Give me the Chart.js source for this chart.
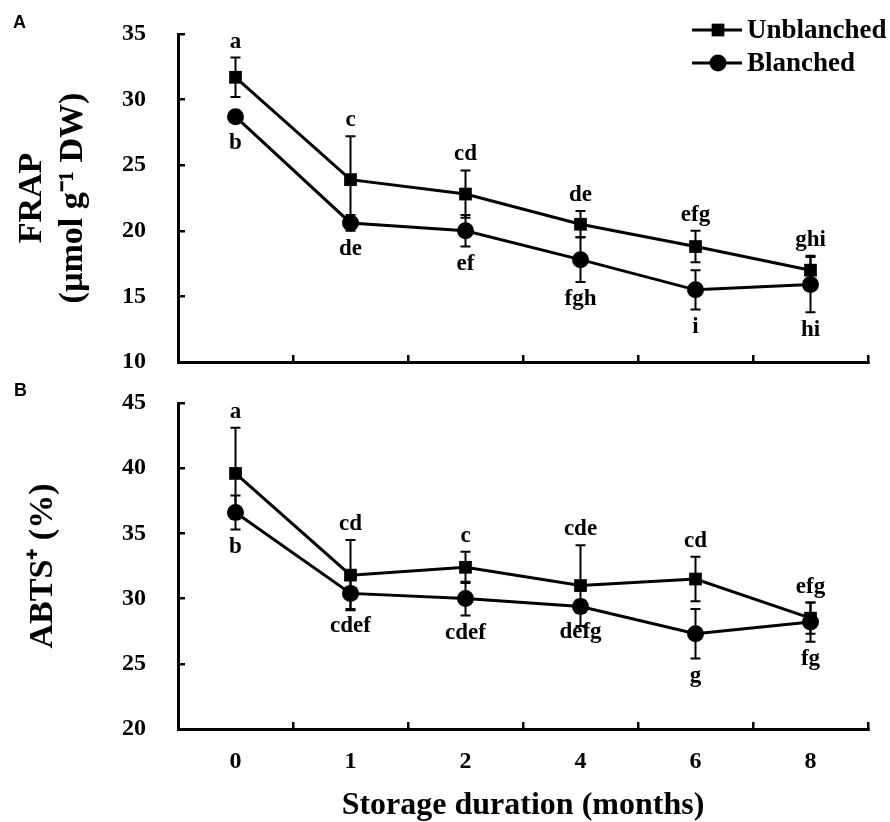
<!DOCTYPE html>
<html>
<head>
<meta charset="utf-8">
<script src="https://cdn.jsdelivr.net/npm/chart.js@4"></script>
<style>
  body { margin: 0; background: #fff; }
  #wrap { position: relative; width: 890px; height: 822px; }
  canvas { position: absolute; left: 0; }
  #chartA { top: 0; }
  #chartB { top: 380px; }
</style>
</head>
<body>
<div id="wrap">
  <canvas id="chartA" width="890" height="380"></canvas>
  <canvas id="chartB" width="890" height="442"></canvas>
</div>
<script>
// storage duration (months)
const months = ['0', '1', '2', '4', '6', '8'];

// Panel A - FRAP (umol g-1 DW)
const frapUnblanched = [31.7, 23.9, 22.8, 20.5, 18.8, 17.0];
const frapUnblanchedErr = [1.5, 3.3, 1.8, 1.0, 1.2, 1.1];
const frapUnblanchedLetters = ['a', 'c', 'cd', 'de', 'efg', 'ghi'];
const frapBlanched = [28.7, 20.6, 20.0, 17.8, 15.5, 15.9];
const frapBlanchedErr = [0.4, 0.6, 1.2, 1.7, 1.5, 2.1];
const frapBlanchedLetters = ['b', 'de', 'ef', 'fgh', 'i', 'hi'];

// Panel B - ABTS+ (%)
const abtsUnblanched = [39.6, 31.8, 32.4, 31.0, 31.5, 28.5];
const abtsUnblanchedErr = [3.5, 2.7, 1.2, 3.1, 1.7, 1.2];
const abtsUnblanchedLetters = ['a', 'cd', 'c', 'cde', 'cd', 'efg'];
const abtsBlanched = [36.6, 30.4, 30.0, 29.4, 27.3, 28.2];
const abtsBlanchedErr = [1.3, 1.2, 1.3, 0.5, 1.9, 1.5];
const abtsBlanchedLetters = ['b', 'cdef', 'cdef', 'defg', 'g', 'fg'];

const serif = "'Liberation Serif', 'Times New Roman', serif";
Chart.defaults.font.family = serif;
Chart.defaults.font.weight = 'bold';
Chart.defaults.color = '#000';

// error bars under the markers, letters on top
const errorBars = {
  id: 'errorBars',
  beforeDatasetsDraw(chart) {
    const ctx = chart.ctx;
    const y = chart.scales.y;
    chart.data.datasets.forEach((ds, i) => {
      chart.getDatasetMeta(i).data.forEach((pt, j) => {
        const top = y.getPixelForValue(ds.data[j] + ds.errors[j]);
        const bot = y.getPixelForValue(ds.data[j] - ds.errors[j]);
        ctx.save();
        ctx.strokeStyle = '#000';
        ctx.lineWidth = 2;
        ctx.beginPath();
        ctx.moveTo(pt.x, top); ctx.lineTo(pt.x, bot);
        ctx.moveTo(pt.x - 5, top); ctx.lineTo(pt.x + 5, top);
        ctx.moveTo(pt.x - 5, bot); ctx.lineTo(pt.x + 5, bot);
        ctx.stroke();
        ctx.restore();
      });
    });
  },
  afterDatasetsDraw(chart) {
    const ctx = chart.ctx;
    const y = chart.scales.y;
    ctx.save();
    ctx.fillStyle = '#000';
    ctx.font = 'bold 23px ' + serif;
    ctx.textAlign = 'center';
    chart.data.datasets.forEach((ds, i) => {
      chart.getDatasetMeta(i).data.forEach((pt, j) => {
        if (ds.letterSide === 'above') {
          const top = Math.min(y.getPixelForValue(ds.data[j] + ds.errors[j]), pt.y - ds.pointRadius);
          ctx.textBaseline = 'alphabetic';
          ctx.fillText(ds.letters[j], pt.x, top - 10);
        } else {
          const bot = Math.max(y.getPixelForValue(ds.data[j] - ds.errors[j]), pt.y + ds.pointRadius);
          ctx.textBaseline = 'top';
          ctx.fillText(ds.letters[j], pt.x, bot + 6);
        }
      });
    });
    ctx.restore();
  }
};

const panelLetter = {
  id: 'panelLetter',
  afterDraw(chart, args, opts) {
    const ctx = chart.ctx;
    ctx.save();
    ctx.fillStyle = '#000';
    ctx.font = "bold 18px 'Liberation Sans', Arial, sans-serif";
    ctx.textBaseline = 'top';
    ctx.fillText(opts.text, opts.x, opts.y);
    ctx.restore();
  }
};

// line + marker legend, top right of panel A
const lineLegend = {
  id: 'lineLegend',
  afterDraw(chart, args, opts) {
    if (!opts.show) return;
    const ctx = chart.ctx;
    const textX = chart.width - 143;
    ctx.save();
    chart.data.datasets.forEach((ds, i) => {
      const yy = 30 + i * 33;
      ctx.strokeStyle = '#000';
      ctx.lineWidth = 3;
      ctx.beginPath();
      ctx.moveTo(textX - 55, yy);
      ctx.lineTo(textX - 5, yy);
      ctx.stroke();
      ctx.fillStyle = '#000';
      Chart.helpers.drawPoint(ctx, {pointStyle: ds.pointStyle, radius: ds.pointRadius, rotation: 0, borderWidth: 0}, textX - 29, yy);
      ctx.font = 'bold 27px ' + serif;
      ctx.textBaseline = 'middle';
      ctx.textAlign = 'left';
      ctx.fillText(ds.label, textX, yy + 1);
    });
    ctx.restore();
  }
};

function makeDatasets(unb, unbErr, unbLet, bl, blErr, blLet) {
  return [
    {
      label: 'Unblanched',
      data: unb, errors: unbErr, letters: unbLet, letterSide: 'above',
      borderColor: '#000', backgroundColor: '#000', borderWidth: 3,
      pointStyle: 'rect', pointRadius: 9, pointBackgroundColor: '#000', pointBorderWidth: 0
    },
    {
      label: 'Blanched',
      data: bl, errors: blErr, letters: blLet, letterSide: 'below',
      borderColor: '#000', backgroundColor: '#000', borderWidth: 3,
      pointStyle: 'circle', pointRadius: 8.5, pointBackgroundColor: '#000', pointBorderWidth: 0
    }
  ];
}

// fixed axis boxes so the plot area lands where the figure has it
function fixBox(s, size) {
  if (s.isHorizontal()) s.height = size; else s.width = size;
  s.paddingTop = 0; s.paddingBottom = 0;
  s.paddingLeft = 0; s.paddingRight = 0;
}

function makeChart(id, cfg) {
  return new Chart(document.getElementById(id), {
    type: 'line',
    data: { labels: months, datasets: cfg.datasets },
    plugins: [errorBars, panelLetter, lineLegend],
    options: {
      responsive: false,
      animation: false,
      devicePixelRatio: 1,
      layout: { padding: { top: cfg.padTop, right: 22, left: 0, bottom: 0 } },
      plugins: {
        legend: { display: false },
        tooltip: { enabled: false },
        panelLetter: cfg.letter,
        lineLegend: { show: cfg.legend }
      },
      scales: {
        x: {
          offset: true,
          ticks: { display: cfg.showX, font: { size: 24, weight: 'bold' }, padding: 25 },
          grid: { offset: true, drawOnChartArea: false, tickLength: -7, color: '#000', lineWidth: 2.5 },
          border: { color: '#000', width: 3 },
          title: {
            display: cfg.showX,
            text: 'Storage duration (months)',
            font: { size: 32, weight: 'bold', lineHeight: 1 },
            padding: { top: 0, bottom: 0 }
          },
          afterFit: s => fixBox(s, cfg.xHeight)
        },
        y: {
          min: cfg.min, max: cfg.max,
          ticks: { stepSize: 5, font: { size: 24, weight: 'bold' }, padding: 39 },
          grid: { drawOnChartArea: false, tickLength: -7, color: '#000', lineWidth: 2.5 },
          border: { color: '#000', width: 3 },
          title: {
            display: true,
            text: cfg.yTitle,
            font: { size: 34, weight: 'bold', lineHeight: 1.2 },
            padding: { top: cfg.yTitlePad, bottom: 0 }
          },
          afterFit: s => fixBox(s, 178)
        }
      }
    }
  });
}

makeChart('chartA', {
  datasets: makeDatasets(frapUnblanched, frapUnblanchedErr, frapUnblanchedLetters,
                         frapBlanched, frapBlanchedErr, frapBlanchedLetters),
  min: 10, max: 35,
  padTop: 34, xHeight: 18, showX: false,
  yTitle: ['FRAP', '(µmol g⁻¹ DW)'], yTitlePad: 12,
  letter: { text: 'A', x: 13, y: 14 },
  legend: true
});

makeChart('chartB', {
  datasets: makeDatasets(abtsUnblanched, abtsUnblanchedErr, abtsUnblanchedLetters,
                         abtsBlanched, abtsBlanchedErr, abtsBlanchedLetters),
  min: 20, max: 45,
  padTop: 23, xHeight: 93, showX: true,
  yTitle: 'ABTS⁺ (%)', yTitlePad: 23,
  letter: { text: 'B', x: 14, y: 2 },
  legend: false
});
</script>
</body>
</html>
